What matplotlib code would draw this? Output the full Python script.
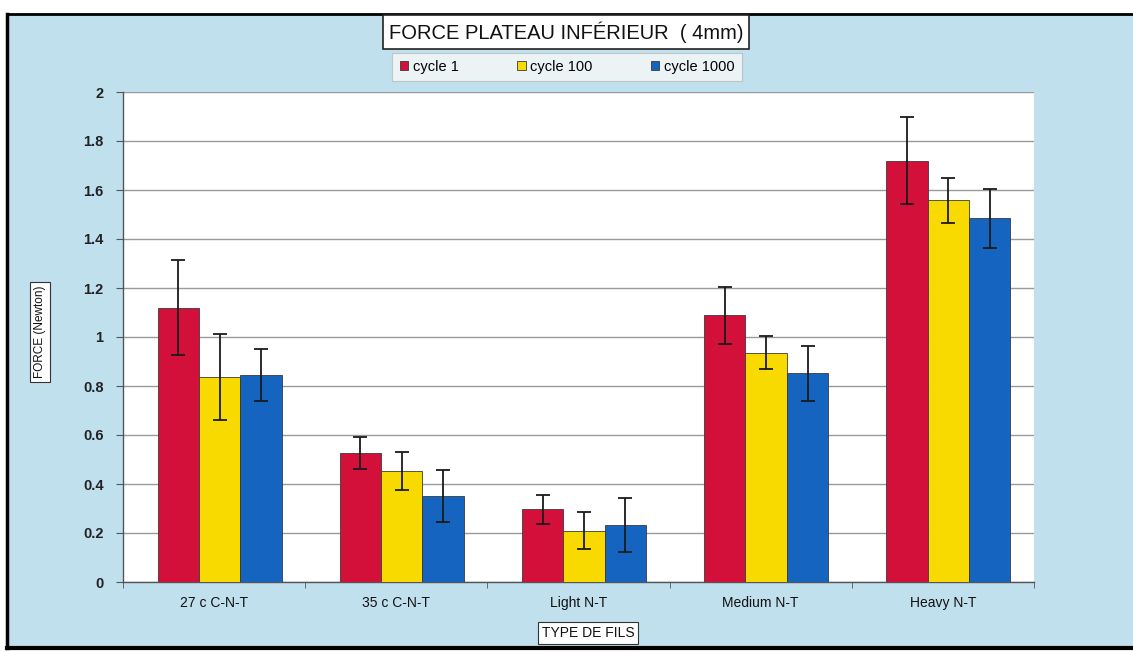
import matplotlib
matplotlib.use("Agg")
import matplotlib.pyplot as plt
from matplotlib.patches import Rectangle
import numpy as np

plt.rcParams["font.family"] = ["Liberation Sans", "DejaVu Sans"]

categories = ["27 c C-N-T", "35 c C-N-T", "Light N-T", "Medium N-T", "Heavy N-T"]
series_names = ["cycle 1", "cycle 100", "cycle 1000"]
cycle1 = [1.12, 0.525, 0.297, 1.088, 1.72]
cycle100 = [0.838, 0.453, 0.21, 0.936, 1.559]
cycle1000 = [0.844, 0.351, 0.233, 0.852, 1.484]
err1 = [0.195, 0.065, 0.06, 0.118, 0.177]
err100 = [0.175, 0.077, 0.077, 0.068, 0.092]
err1000 = [0.105, 0.107, 0.11, 0.113, 0.12]
yticks = [0, 0.2, 0.4, 0.6, 0.8, 1, 1.2, 1.4, 1.6, 1.8, 2]
ytick_labels = ["0", "0.2", "0.4", "0.6", "0.8", "1", "1.2", "1.4", "1.6", "1.8", "2"]

colors = ["#d2103a", "#f9da00", "#1565c0"]
bg = "#c0e0ee"

W, H = 1133, 652
fig = plt.figure(figsize=(W / 100, H / 100), dpi=100)
fig.patch.set_facecolor("white")

# light-blue chart area with black frame, kept behind the axes
fig.patches.append(Rectangle((7 / W, 4 / H), (W - 7) / W, (638 - 4) / H,
                             transform=fig.transFigure, facecolor=bg,
                             edgecolor="none", zorder=-10))
for xs, ys, lw in [([7 / W, 7 / W], [4 / H, 638 / H], 2.5),
                   ([7 / W, 1], [638 / H, 638 / H], 2.0),
                   ([7 / W, 1], [4 / H, 4 / H], 3.0)]:
    fig.add_artist(plt.Line2D(xs, ys, transform=fig.transFigure, color="black",
                              lw=lw, zorder=-9))

left, right, top, bottom = 123, 1034, 92, 582
ax = fig.add_axes([left / W, 1 - bottom / H, (right - left) / W, (bottom - top) / H])
ax.set_zorder(1)
ax.set_facecolor("white")

x = np.arange(len(categories))
bw = 0.227
for i, (vals, errs) in enumerate(zip([cycle1, cycle100, cycle1000], [err1, err100, err1000])):
    ax.bar(x + (i - 1) * bw + 0.03, vals, bw, color=colors[i], edgecolor="#3a3a3a",
           linewidth=0.6, yerr=errs, capsize=5,
           error_kw=dict(ecolor="#1a1a1a", elinewidth=1.3, capthick=1.3),
           label=series_names[i], zorder=3)

ax.set_xlim(-0.5, len(categories) - 0.5)
ax.set_ylim(0, 2)
ax.set_yticks(yticks)
ax.set_yticklabels(ytick_labels, fontsize=10.5, fontweight="bold", color="#222222")
ax.set_xticks(x)
ax.set_xticklabels(categories, fontsize=10, color="#111111")
ax.set_xticks(np.arange(len(categories) + 1) - 0.5, minor=True)
ax.tick_params(axis="x", which="major", length=0, pad=10)
ax.tick_params(axis="x", which="minor", length=4, direction="out", color="#555555")
ax.tick_params(axis="y", length=5, direction="out", color="#555555", pad=9)
ax.yaxis.grid(True, color="#9a9a9a", linewidth=1.0, zorder=0)
ax.set_axisbelow(True)
for side in ["top", "right"]:
    ax.spines[side].set_visible(False)
for side in ["left", "bottom"]:
    ax.spines[side].set_color("#555555")
    ax.spines[side].set_linewidth(1.0)

# title box
fig.text(566 / W, 1 - 32 / H, "FORCE PLATEAU INFÉRIEUR  ( 4mm)", ha="center", va="center",
         fontsize=14.5, color="#111111", zorder=5,
         bbox=dict(boxstyle="square,pad=0.3", facecolor="white", edgecolor="#222222", lw=1.2))

# legend
leg = fig.legend(loc="center", bbox_to_anchor=(567 / W, 1 - 67 / H), ncol=3, frameon=True,
                 fontsize=10.5, handlelength=0.6, handleheight=0.6, handletextpad=0.3,
                 columnspacing=4.0, fancybox=False, borderpad=0.5)
leg.get_frame().set_facecolor("#f6f8f8")
leg.get_frame().set_edgecolor("#bbbbbb")
leg.get_frame().set_linewidth(0.8)
leg.set_zorder(5)

# axis label boxes
fig.text(40 / W, 1 - 332 / H, "FORCE (Newton)", rotation=90, ha="center", va="center",
         fontsize=8.5, color="#111111", zorder=5,
         bbox=dict(boxstyle="square,pad=0.3", facecolor="white", edgecolor="#333333", lw=0.8))
fig.text(588 / W, 1 - 633 / H, "TYPE DE FILS", ha="center", va="center",
         fontsize=10, color="#111111", zorder=5,
         bbox=dict(boxstyle="square,pad=0.3", facecolor="white", edgecolor="#333333", lw=0.8))

fig.savefig("out.png", dpi=100, facecolor=fig.get_facecolor())
